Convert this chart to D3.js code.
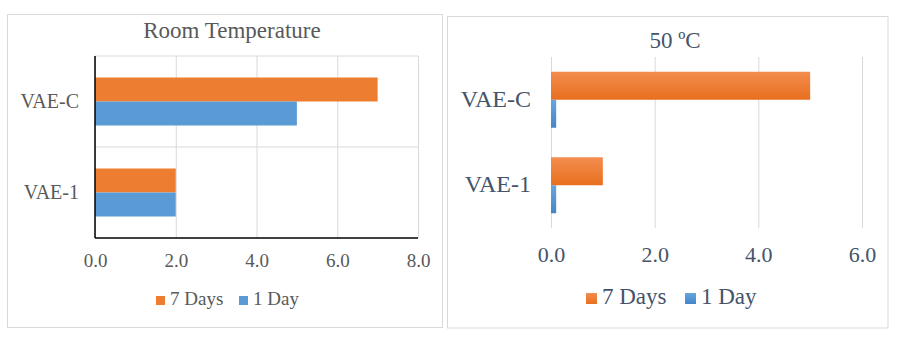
<!DOCTYPE html>
<html>
<head>
<meta charset="utf-8">
<script src="https://cdn.jsdelivr.net/npm/d3@7"></script>
<style>
  body { margin: 0; background: #fff; }
  svg text { font-family: "Liberation Serif", "Times New Roman", serif; }
</style>
</head>
<body>
<svg id="chart" width="900" height="348"></svg>
<script>
// data
const categories = ["VAE-C", "VAE-1"];
const seriesNames = ["7 Days", "1 Day"];
const roomTemp7Days = [7, 2];
const roomTemp1Day = [5, 2];
const hot7Days = [5, 1];
const hot1Day = [0.1, 0.1];
const roomTicks = [0, 2, 4, 6, 8];
const hotTicks = [0, 2, 4, 6];

const svg = d3.select("#chart");
const fmt = d3.format(".1f");

// gradients for the right hand chart
const defs = svg.append("defs");
function grad(id, top, bottom) {
  const g = defs.append("linearGradient").attr("id", id)
    .attr("x1", 0).attr("y1", 0).attr("x2", 0).attr("y2", 1);
  g.append("stop").attr("offset", "0%").attr("stop-color", top);
  g.append("stop").attr("offset", "100%").attr("stop-color", bottom);
}
grad("gOrange", "#f38d4f", "#e86f1e");
grad("gBlue", "#66a5de", "#4486c8");

function drawPanel(o) {
  const g = svg.append("g");

  // outer frame
  g.append("rect")
    .attr("x", o.box[0]).attr("y", o.box[1])
    .attr("width", o.box[2]).attr("height", o.box[3])
    .attr("fill", "#fff").attr("stroke", "#d9d9d9").attr("stroke-width", 1);

  const x = d3.scaleLinear().domain(o.xDomain).range([o.left, o.right]);
  const y = d3.scaleBand().domain(categories).range([o.top, o.bottom]);
  const bw = y.bandwidth();
  const pad = (bw / o.barH - 2) / 2;
  const ySub = d3.scaleBand().domain(seriesNames).range([0, bw])
    .paddingInner(0).paddingOuter(pad);

  // vertical gridlines + tick labels
  const xAxis = g.append("g")
    .attr("transform", `translate(0,${o.bottom})`)
    .call(d3.axisBottom(x).tickValues(o.ticks).tickFormat(fmt)
      .tickSize(-(o.bottom - o.top)).tickPadding(o.tickPad));
  xAxis.select(".domain").remove();
  xAxis.selectAll(".tick line").attr("stroke", "#d9d9d9");
  xAxis.selectAll(".tick text")
    .attr("fill", o.textColor).style("font-size", o.tickFs + "px");

  if (o.hGrid) {
    g.selectAll(".hgrid").data([o.top, y("VAE-1")]).enter()
      .append("line")
      .attr("x1", o.left).attr("x2", o.right)
      .attr("y1", (d) => d).attr("y2", (d) => d)
      .attr("stroke", "#d9d9d9");
  }

  // bars
  const rows = [];
  categories.forEach((c, i) => {
    rows.push({ cat: c, s: seriesNames[0], v: o.a[i] });
    rows.push({ cat: c, s: seriesNames[1], v: o.b[i] });
  });
  g.selectAll(".bar").data(rows).enter()
    .append("rect")
    .attr("class", "bar")
    .attr("x", x(0))
    .attr("y", (d) => y(d.cat) + ySub(d.s))
    .attr("width", (d) => x(d.v) - x(0))
    .attr("height", ySub.bandwidth())
    .attr("fill", (d) => (d.s === seriesNames[0] ? o.colA : o.colB));

  // category labels
  g.selectAll(".cat").data(categories).enter()
    .append("text")
    .attr("x", o.labelX)
    .attr("y", (d) => y(d) + bw / 2 + o.labelFs * 0.3)
    .attr("text-anchor", "end")
    .attr("fill", o.textColor)
    .style("font-size", o.labelFs + "px")
    .text((d) => d);

  // black axis lines on the left chart
  if (o.blackAxes) {
    g.append("line").attr("x1", o.left).attr("x2", o.left)
      .attr("y1", o.top).attr("y2", o.bottom)
      .attr("stroke", "#000").attr("stroke-width", 1.5);
    g.append("line").attr("x1", o.left).attr("x2", o.right)
      .attr("y1", o.bottom).attr("y2", o.bottom)
      .attr("stroke", "#000").attr("stroke-width", 1.5);
  }

  // title
  g.append("text")
    .attr("x", o.titleX).attr("y", o.titleY)
    .attr("text-anchor", "middle")
    .attr("fill", o.textColor)
    .style("font-size", o.titleFs + "px")
    .text(o.title);

  // legend
  const lg = g.append("g");
  o.legend.forEach((l, i) => {
    lg.append("rect")
      .attr("x", l.x).attr("y", o.legendY - o.sq)
      .attr("width", o.sq).attr("height", o.sq)
      .attr("fill", i === 0 ? o.colA : o.colB);
    lg.append("text")
      .attr("x", l.x + o.sq + 5).attr("y", o.legendY)
      .attr("fill", o.textColor)
      .style("font-size", o.legendFs + "px")
      .text(seriesNames[i]);
  });
}

drawPanel({
  box: [7.5, 14.5, 435, 313],
  xDomain: [0, 8], ticks: roomTicks,
  left: 95, right: 418, top: 56, bottom: 238,
  barH: 24, a: roomTemp7Days, b: roomTemp1Day,
  colA: "#ed7d31", colB: "#5b9bd5",
  textColor: "#595959", labelFs: 20, tickFs: 19, legendFs: 19, tickPad: 16,
  labelX: 79, hGrid: true, blackAxes: true,
  title: "Room Temperature", titleX: 232, titleY: 38, titleFs: 23,
  legend: [{ x: 156 }, { x: 239 }], legendY: 305, sq: 9
});

drawPanel({
  box: [447.5, 16.5, 440.5, 311.5],
  xDomain: [0, 6], ticks: hotTicks,
  left: 551, right: 862, top: 57, bottom: 228,
  barH: 28, a: hot7Days, b: hot1Day,
  colA: "url(#gOrange)", colB: "url(#gBlue)",
  textColor: "#44546a", labelFs: 24, tickFs: 22, legendFs: 23, tickPad: 18,
  labelX: 531, hGrid: false, blackAxes: false,
  title: "50 ºC", titleX: 675, titleY: 48, titleFs: 23,
  legend: [{ x: 586 }, { x: 685 }], legendY: 304, sq: 11
});
</script>
</body>
</html>
